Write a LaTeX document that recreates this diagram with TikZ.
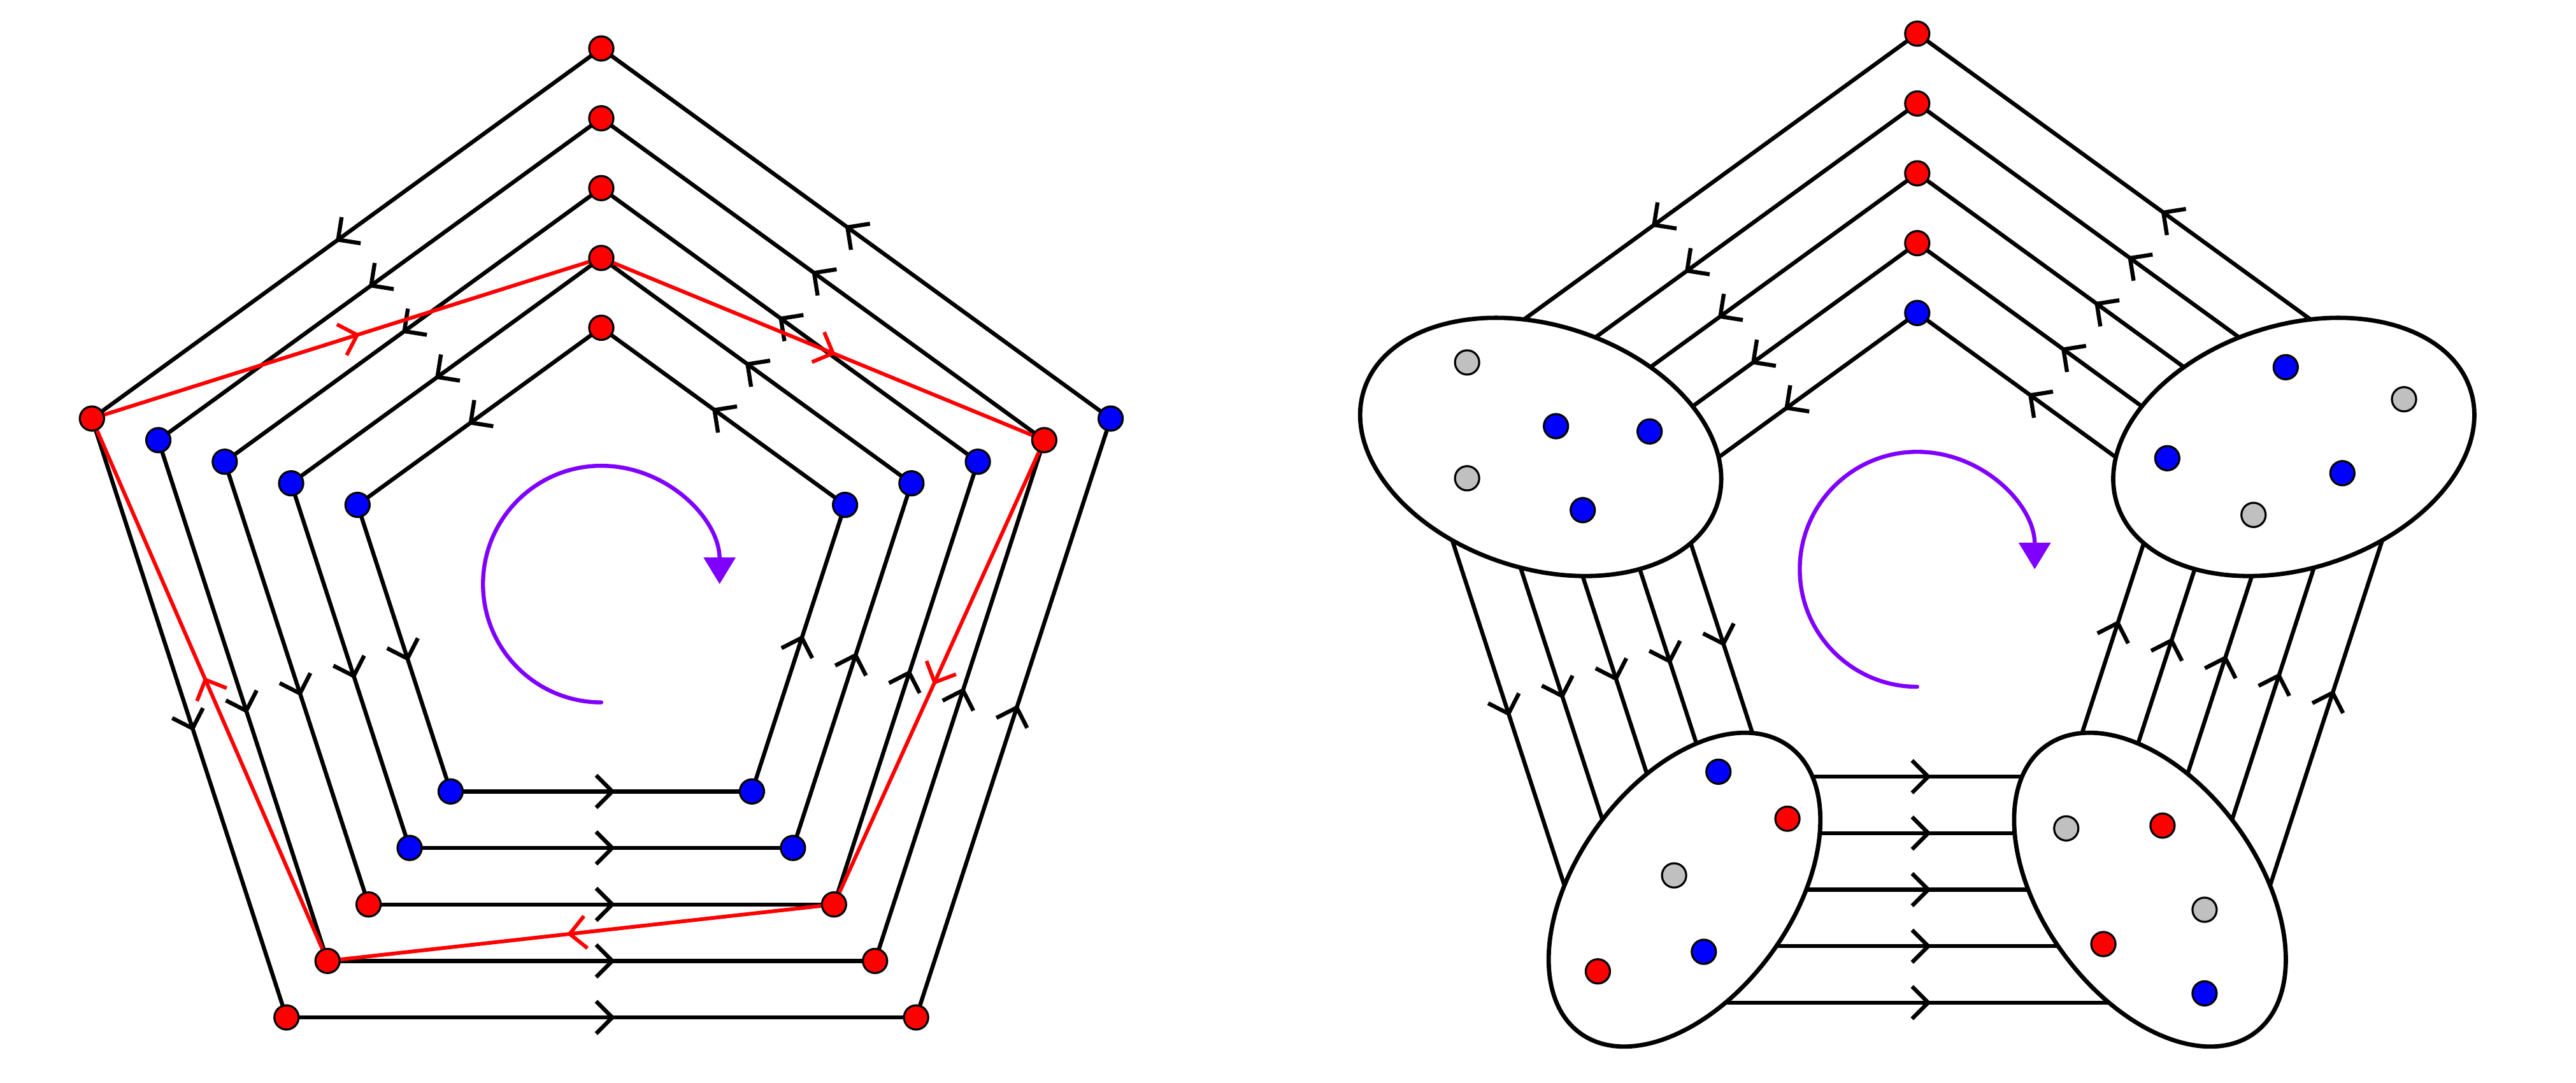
\documentclass[tikz,border=0pt]{standalone}
\usetikzlibrary{arrows.meta,decorations.markings,calc,shapes.geometric}
\definecolor{purp}{RGB}{127,0,255}
\definecolor{lgray}{RGB}{192,192,192}
\tikzset{
  midarrow/.style={postaction={decorate},decoration={markings,mark=at position 0.5 with {\pgftransformxshift{2.4pt}\arrow{Straight Barb[length=2.8pt,width=5.6pt]}}}},
  pedge/.style={draw=black,line width=0.7pt,midarrow},
  redge/.style={draw=red,line width=0.65pt,midarrow},
  vdot/.style={circle,draw=black,line width=0.35pt,inner sep=0pt,minimum size=4.2pt},
  blob/.style={ellipse,draw=black,fill=white,line width=0.75pt,inner sep=0pt},
  turn/.style={draw=purp,line width=0.7pt,line cap=round,-{Triangle[length=4.6pt,width=5.4pt]}},
}
\begin{document}
\begin{tikzpicture}
\useasboundingbox (0,0) rectangle (15.68,-6.59);
\coordinate (CL) at (3.66,-3.555);
\coordinate (CR) at (11.67,-3.465);
\foreach \i in {0,...,4}{
  \pgfmathsetmacro\R{3.26-0.425*\i}
  \foreach \k/\a in {t/90,l/162,bl/234,br/306,r/18}{
    \coordinate (A\k\i) at ($(CL)+(\a:\R)$);
    \coordinate (B\k\i) at ($(CR)+(\a:\R)$);
  }
}
% pentagon edges
\foreach \i in {0,...,4}{
  \foreach \p/\q in {t/l,l/bl,bl/br,br/r,r/t}{
    \draw[pedge] (A\p\i) -- (A\q\i);
    \draw[pedge] (B\p\i) -- (B\q\i);
  }
}
% red cycle
\draw[redge] (Al0) -- (At3);
\draw[redge] (At3) -- (Ar1);
\draw[redge] (Ar1) -- (Abr2);
\draw[redge] (Abr2) -- (Abl1);
\draw[redge] (Abl1) -- (Al0);
% left dots
\foreach \i/\ct/\cl/\cbl/\cbr/\cr in {0/red/red/red/red/blue,1/red/blue/red/red/red,2/red/blue/red/red/blue,3/red/blue/blue/blue/blue,4/red/blue/blue/blue/blue}{
  \node[vdot,fill=\ct] (dAt\i) at (At\i) {};
  \node[vdot,fill=\cl] (dAl\i) at (Al\i) {};
  \node[vdot,fill=\cbl] (dAbl\i) at (Abl\i) {};
  \node[vdot,fill=\cbr] (dAbr\i) at (Abr\i) {};
  \node[vdot,fill=\cr] (dAr\i) at (Ar\i) {};
}
% right: ellipses
\node[blob,rotate=162,minimum width=2.26cm,minimum height=1.48cm] (EL) at (Bl2) {};
\node[blob,rotate=18,minimum width=2.26cm,minimum height=1.48cm] (ER) at (Br2) {};
\node[blob,rotate=234,minimum width=2.16cm,minimum height=1.31cm] (EBL) at (Bbl2) {};
\node[blob,rotate=306,minimum width=2.16cm,minimum height=1.31cm] (EBR) at (Bbr2) {};
% right top dots
\foreach \i/\c in {0/red,1/red,2/red,3/red,4/blue}{
  \node[vdot,fill=\c] (dBt\i) at (Bt\i) {};
}
% dots inside ellipses
\foreach \n/\x/\y/\c in {
  l1/8.93/-2.206/lgray, l2/8.93/-2.911/lgray, l3/9.471/-2.594/blue, l4/10.041/-2.626/blue, l5/9.634/-3.105/blue,
  r1/13.913/-2.235/blue, r2/14.633/-2.43/lgray, r3/13.192/-2.789/blue, r4/14.258/-2.88/blue, r5/13.717/-3.134/lgray,
  a1/10.46/-4.697/blue, a2/10.88/-4.983/red, a3/10.19/-5.328/lgray, a4/10.371/-5.793/blue, a5/9.726/-5.912/red,
  b1/12.577/-5.042/lgray, b2/13.163/-5.025/red, b3/13.419/-5.537/lgray, b4/12.803/-5.746/red, b5/13.419/-6.046/blue}{
  \node[vdot,fill=\c] (e\n) at (\x,\y) {};
}
% rotation arrows
\coordinate (SL) at ($(CL)+(0,-0.72)$);
\coordinate (SR) at ($(CR)+(0,-0.715)$);
\draw[turn] (SL) arc[start angle=-90,end angle=-360,radius=0.72];
\draw[turn] (SR) arc[start angle=-90,end angle=-360,radius=0.715];
\end{tikzpicture}
\end{document}
